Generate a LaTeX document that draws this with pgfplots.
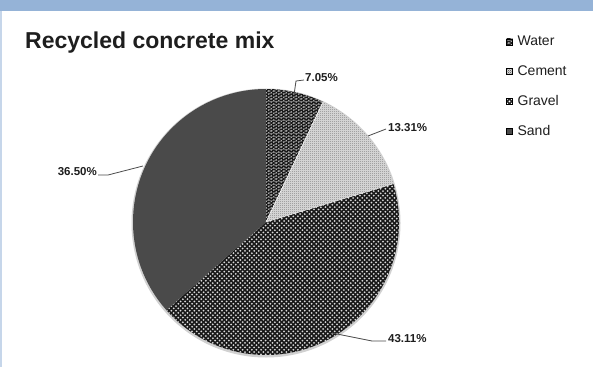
\documentclass[border=0pt]{standalone}
\usepackage{pgfplots}
\pgfplotsset{compat=1.18}
\usepackage{pgfplotstable}
\usepackage{fontspec}
\setmainfont{Liberation Sans}
\usetikzlibrary{patterns}
\definecolor{barblue}{HTML}{95B3D7}
\definecolor{edgeblue}{HTML}{C6D6EA}
\definecolor{sanddark}{HTML}{4A4A4A}
\definecolor{txt}{HTML}{1E1E1E}

\pgfdeclarepatternformonly{bigdots}{\pgfpoint{-1pt}{-1pt}}{\pgfpoint{6pt}{6pt}}{\pgfpoint{4.6pt}{4.6pt}}{%
  \pgfpathcircle{\pgfpoint{1.15pt}{1.15pt}}{1.0pt}%
  \pgfpathcircle{\pgfpoint{3.45pt}{3.45pt}}{1.0pt}%
  \pgfusepath{fill}}
\pgfdeclarepatternformonly{weave}{\pgfpoint{-1pt}{-1pt}}{\pgfpoint{6pt}{4pt}}{\pgfpoint{5pt}{3.2pt}}{%
  \pgfpathellipse{\pgfpoint{1.25pt}{0.8pt}}{\pgfpoint{2.1pt}{0pt}}{\pgfpoint{0pt}{0.85pt}}%
  \pgfpathellipse{\pgfpoint{3.75pt}{2.4pt}}{\pgfpoint{2.1pt}{0pt}}{\pgfpoint{0pt}{0.85pt}}%
  \pgfusepath{fill}}
\pgfdeclarepatternformonly{finecheck}{\pgfpointorigin}{\pgfpoint{2pt}{2pt}}{\pgfpoint{2pt}{2pt}}{%
  \pgfpathrectangle{\pgfpointorigin}{\pgfpoint{1pt}{1pt}}%
  \pgfpathrectangle{\pgfpoint{1pt}{1pt}}{\pgfpoint{1pt}{1pt}}%
  \pgfusepath{fill}}

\pgfplotstableread{
label value
Water 7.05
Cement 13.31
Gravel 43.11
Sand 36.50
}\mixdata
\pgfplotstablegetelem{0}{value}\of\mixdata \let\vA\pgfplotsretval
\pgfplotstablegetelem{1}{value}\of\mixdata \let\vB\pgfplotsretval
\pgfplotstablegetelem{2}{value}\of\mixdata \let\vC\pgfplotsretval
\pgfplotstablegetelem{3}{value}\of\mixdata \let\vD\pgfplotsretval
\pgfmathsetmacro\aA{90}
\pgfmathsetmacro\aB{\aA-3.6*\vA}
\pgfmathsetmacro\aC{\aB-3.6*\vB}
\pgfmathsetmacro\aD{\aC-3.6*\vC}
\pgfmathsetmacro\aE{\aD-3.6*\vD}

\begin{document}
\begin{tikzpicture}
\fill[white] (0,0) rectangle (593pt,367pt);
\fill[barblue] (0,356pt) rectangle (593pt,367pt);
\fill[edgeblue] (0,0) rectangle (2pt,356pt);
\begin{axis}[
  at={(0,0)}, anchor=south west,
  x=1pt, y=1pt, xmin=0, xmax=593, ymin=0, ymax=367,
  scale only axis, hide axis, clip=false,
  legend style={at={(axis cs:506,333)}, anchor=north west, draw=none, fill=none,
    font=\fontsize{14}{16}\selectfont, text=txt, row sep=14.3pt,
    inner sep=0pt, cells={anchor=west}},
  legend cell align=left,
  legend image code/.code={\path[#1] (0pt,-3pt) rectangle (6pt,3pt);\path (9pt,0pt);},
]
\def\cx{266}\def\cy{145}
% shadow edge
\fill[black!18] (axis cs:\cx,\cy-1) circle[radius=134.5pt];
% Water
\path[fill=gray!45, postaction={pattern=weave, pattern color=black!90}]
  (axis cs:\cx,\cy) -- ++(\aA:133pt) arc[start angle=\aA, end angle=\aB, radius=133pt] -- cycle;
% Cement
\path[fill=gray!25, postaction={pattern=finecheck, pattern color=black!50}]
  (axis cs:\cx,\cy) -- ++(\aB:133pt) arc[start angle=\aB, end angle=\aC, radius=133pt] -- cycle;
% Gravel
\path[fill=black!90, postaction={pattern=bigdots, pattern color=white!85!black}]
  (axis cs:\cx,\cy) -- ++(\aC:133pt) arc[start angle=\aC, end angle=\aD, radius=133pt] -- cycle;
% Sand
\path[fill=sanddark]
  (axis cs:\cx,\cy) -- ++(\aD:133pt) arc[start angle=\aD, end angle=\aE, radius=133pt] -- cycle;
\draw[white, line width=0.5pt] (axis cs:\cx,\cy) -- ++(\aB:133pt);
\draw[white, line width=0.5pt] (axis cs:\cx,\cy) -- ++(\aC:133pt);

\addlegendimage{fill=gray!45, postaction={pattern=weave, pattern color=black!90}}
\addlegendentry{Water}
\addlegendimage{fill=gray!25, postaction={pattern=finecheck, pattern color=black!60}}
\addlegendentry{Cement}
\addlegendimage{fill=black!85, postaction={pattern=bigdots, pattern color=white}}
\addlegendentry{Gravel}
\addlegendimage{fill=sanddark}
\addlegendentry{Sand}

% leader lines
\draw[black!70, line width=0.8pt] (axis cs:294,272) -- (axis cs:296,286) -- (axis cs:304,287);
\draw[black!70, line width=0.8pt] (axis cs:368,231) -- (axis cs:386,238);
\draw[black!70, line width=0.8pt] (axis cs:143,201) -- (axis cs:108,192) -- (axis cs:98,192);
\draw[black!70, line width=0.8pt] (axis cs:332,34) -- (axis cs:372,26) -- (axis cs:386,26);

\node[anchor=west, inner sep=0pt, font=\bfseries\fontsize{11.5}{13}\selectfont, text=txt] at (axis cs:305,289) {7.05\%};
\node[anchor=west, inner sep=0pt, font=\bfseries\fontsize{11.5}{13}\selectfont, text=txt] at (axis cs:388,239) {13.31\%};
\node[anchor=east, inner sep=0pt, font=\bfseries\fontsize{11.5}{13}\selectfont, text=txt] at (axis cs:97,195) {36.50\%};
\node[anchor=west, inner sep=0pt, font=\bfseries\fontsize{11.5}{13}\selectfont, text=txt] at (axis cs:388,28) {43.11\%};

\node[anchor=base west, inner sep=0pt, font=\bfseries\fontsize{23}{25}\selectfont, text=txt] at (axis cs:25,318) {Recycled concrete mix};
\end{axis}
\pgfresetboundingbox
\useasboundingbox (0,0) rectangle (593pt,367pt);
\end{tikzpicture}
\end{document}
